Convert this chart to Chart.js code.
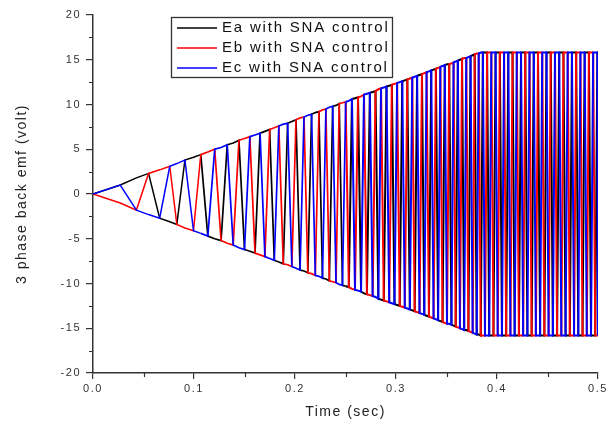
<!DOCTYPE html>
<html>
<head>
<meta charset="utf-8">
<script src="https://cdn.jsdelivr.net/npm/chart.js@4.4.1/dist/chart.umd.min.js"></script>
<style>
  html, body { margin: 0; padding: 0; background: #fff; }
  #wrap { width: 615px; height: 425px; position: relative; }
</style>
</head>
<body>
<div id="wrap"><canvas id="emf"></canvas></div>
<script>
// commutation instants (s) while the amplitude ramps up, with the envelope height (V) at each
const rampComm = [
  [0, 0], [0.027, 1.0], [0.043, 1.8], [0.055, 2.3], [0.066, 2.7], [0.076, 3.1],
  [0.083, 3.4], [0.091, 3.8], [0.0995, 4.1],
  [0.1067, 4.4], [0.1137, 4.7], [0.1205, 5.0], [0.1268, 5.2], [0.1329, 5.5],
  [0.1388, 5.7], [0.1445, 6.0], [0.15, 6.2],
  [0.1553, 6.4], [0.1604, 6.6], [0.1654, 6.8], [0.1702, 7.0], [0.1749, 7.2],
  [0.1795, 7.4], [0.184, 7.6], [0.1884, 7.8], [0.1927, 7.9], [0.1969, 8.1], [0.201, 8.3],
  [0.205, 8.5], [0.2089, 8.6], [0.2127, 8.8], [0.2164, 8.9], [0.2201, 9.1],
  [0.2237, 9.2], [0.2272, 9.4], [0.2306, 9.5], [0.234, 9.7], [0.2373, 9.8],
  [0.2406, 9.9], [0.2438, 10.1], [0.247, 10.2], [0.2502, 10.3],
  [0.2533, 10.4], [0.2564, 10.6], [0.2594, 10.7], [0.2624, 10.8], [0.2654, 10.9],
  [0.2683, 11.1], [0.2712, 11.2], [0.2741, 11.3], [0.2769, 11.4], [0.2797, 11.5],
  [0.2825, 11.7], [0.2852, 11.8], [0.2879, 11.9], [0.2906, 12.0], [0.2933, 12.1],
  [0.2959, 12.2], [0.2985, 12.3], [0.3011, 12.4],
  [0.3037, 12.5], [0.3062, 12.6], [0.3087, 12.7], [0.3112, 12.8], [0.3137, 12.9],
  [0.3161, 13.0], [0.3185, 13.1], [0.3209, 13.2], [0.3233, 13.3], [0.3257, 13.4],
  [0.328, 13.5], [0.3303, 13.6], [0.3326, 13.7], [0.3349, 13.8], [0.3372, 13.9],
  [0.3395, 14.0], [0.3417, 14.1], [0.3439, 14.2], [0.3461, 14.3], [0.3483, 14.4],
  [0.3505, 14.5], [0.3527, 14.5], [0.3549, 14.6], [0.357, 14.7], [0.3591, 14.8],
  [0.3612, 14.9], [0.3633, 15.0], [0.3654, 15.1], [0.3675, 15.2], [0.3696, 15.2],
  [0.3717, 15.3], [0.3738, 15.4], [0.3759, 15.5], [0.3779, 15.6], [0.3799, 15.7],
  [0.3819, 15.7], [0.3839, 15.8]
];
// commutation instants (s) once the amplitude has levelled off
const plateauComm = [
  0.386, 0.3881, 0.3902, 0.3923, 0.3944, 0.3965, 0.3986, 0.4007, 0.4028, 0.4049,
  0.407, 0.4091, 0.4112, 0.4133, 0.4154, 0.4175, 0.4196, 0.4217, 0.4238, 0.4259,
  0.428, 0.4301, 0.4322, 0.4343, 0.4364, 0.4385, 0.4406, 0.4427, 0.4448, 0.4469,
  0.449, 0.4511, 0.4532, 0.4553, 0.4574, 0.4595, 0.4616, 0.4637, 0.4658, 0.4679,
  0.47, 0.4721, 0.4742, 0.4763, 0.4784, 0.4805, 0.4826, 0.4847, 0.4868, 0.4889,
  0.491, 0.4931, 0.4952, 0.4973, 0.4994, 0.5
];
const plateauLevel = 15.8;

// which phase swaps side in each commutation interval (Ec down, Eb up, Ea down, ...)
const flipOrder = ['c', 'b', 'a'];
const startSign = { a: 1, b: -1, c: 1 };

const phaseKeys = ['a', 'b', 'c'];
const seriesNames = ['Ea with SNA control', 'Eb with SNA control', 'Ec with SNA control'];
const seriesColors = ['#000000', '#ff0000', '#0000ff'];

const xTicks = [0, 0.1, 0.2, 0.3, 0.4, 0.5];
const xTickLabels = ['0.0', '0.1', '0.2', '0.3', '0.4', '0.5'];
const xMinor = [0.05, 0.15, 0.25, 0.35, 0.45];
const yTicks = [-20, -15, -10, -5, 0, 5, 10, 15, 20];
const yMinor = [-17.5, -12.5, -7.5, -2.5, 2.5, 7.5, 12.5, 17.5];

// build the point lists for the three phases
const commTable = rampComm.concat(plateauComm.map(t => [t, plateauLevel]));
const points = { a: [], b: [], c: [] };
const sign = Object.assign({}, startSign);
commTable.forEach(([t, amp], k) => {
  if (k >= 2) sign[flipOrder[(k - 2) % 3]] *= -1;
  phaseKeys.forEach(p => points[p].push({ x: t, y: sign[p] * amp }));
});

const axisColor = '#333';
const spacing = '1.5px';

const textSpacing = {
  id: 'textSpacing',
  beforeLayout(chart) { chart.ctx.letterSpacing = spacing; },
  beforeDraw(chart) { chart.ctx.letterSpacing = spacing; }
};

const minorTicks = {
  id: 'minorTicks',
  afterDraw(chart) {
    const c = chart.ctx;
    const xs = chart.scales.x, ys = chart.scales.y;
    c.save();
    c.strokeStyle = axisColor;
    c.lineWidth = 1.2;
    c.beginPath();
    yMinor.forEach(v => {
      const py = Math.round(ys.getPixelForValue(v)) + 0.5;
      c.moveTo(ys.right - 4, py);
      c.lineTo(ys.right, py);
    });
    xMinor.forEach(v => {
      const px = Math.round(xs.getPixelForValue(v)) + 0.5;
      c.moveTo(px, xs.top);
      c.lineTo(px, xs.top + 4);
    });
    c.stroke();
    c.restore();
  }
};

const boxLegend = {
  id: 'boxLegend',
  afterDatasetsDraw(chart) {
    const c = chart.ctx;
    c.save();
    c.fillStyle = '#fff';
    c.fillRect(171.5, 17.5, 221, 60);
    c.strokeStyle = '#333';
    c.lineWidth = 1.3;
    c.strokeRect(171.5, 17.5, 221, 60);
    c.font = '15px "Liberation Sans", Arial, sans-serif';
    c.letterSpacing = '1.8px';
    c.textBaseline = 'middle';
    c.textAlign = 'left';
    chart.data.datasets.forEach((ds, i) => {
      const y = 28 + i * 20;
      c.strokeStyle = ds.borderColor;
      c.lineWidth = 1.5;
      c.beginPath();
      c.moveTo(177, y);
      c.lineTo(217, y);
      c.stroke();
      c.fillStyle = '#111';
      c.fillText(ds.label, 222, y);
    });
    c.restore();
  }
};

Chart.defaults.font.family = '"Liberation Sans", Arial, sans-serif';
Chart.defaults.color = axisColor;

new Chart(document.getElementById('emf'), {
  type: 'line',
  data: {
    datasets: phaseKeys.map((p, i) => ({
      label: seriesNames[i],
      data: points[p],
      borderColor: seriesColors[i],
      backgroundColor: seriesColors[i],
      borderWidth: 1.5,
      segment: {
        // the blurred dense part of the original reads as slightly thicker strokes
        borderWidth: ctx => ctx.p0.parsed.x >= 0.25 ? 2.0 : (ctx.p0.parsed.x >= 0.1 ? 1.7 : 1.5)
      },
      pointRadius: 0,
      tension: 0,
      fill: false,
      order: 2 - i
    }))
  },
  options: {
    responsive: true,
    maintainAspectRatio: false,
    animation: false,
    parsing: false,
    events: [],
    layout: { padding: { top: 15, right: 17, bottom: 0, left: 0 } },
    plugins: {
      legend: { display: false },
      tooltip: { enabled: false }
    },
    scales: {
      x: {
        type: 'linear',
        min: 0,
        max: 0.5,
        afterFit(scale) { scale.height = 52; },
        afterBuildTicks(scale) { scale.ticks = xTicks.map(v => ({ value: v })); },
        ticks: {
          font: { size: 11 },
          color: axisColor,
          padding: 3,
          maxRotation: 0,
          autoSkip: false,
          callback: (v, i) => xTickLabels[i]
        },
        grid: { drawOnChartArea: false, drawTicks: true, tickLength: 6, color: axisColor, lineWidth: 1.2 },
        border: { display: true, color: axisColor, width: 1.5 },
        title: {
          display: true,
          text: 'Time (sec)',
          font: { size: 14 },
          color: '#222',
          padding: { top: 0, bottom: 4 }
        }
      },
      y: {
        type: 'linear',
        min: -20,
        max: 20,
        afterFit(scale) { scale.width = 93; },
        afterBuildTicks(scale) { scale.ticks = yTicks.map(v => ({ value: v })); },
        ticks: {
          font: { size: 11 },
          color: axisColor,
          padding: 5,
          autoSkip: false
        },
        grid: { drawOnChartArea: false, drawTicks: true, tickLength: 7, color: axisColor, lineWidth: 1.2 },
        border: { display: true, color: axisColor, width: 1.5 },
        title: {
          display: true,
          text: '3 phase back emf (volt)',
          font: { size: 14 },
          color: '#222',
          padding: { top: 14, bottom: 0 }
        }
      }
    }
  },
  plugins: [textSpacing, minorTicks, boxLegend]
});
</script>
</body>
</html>
